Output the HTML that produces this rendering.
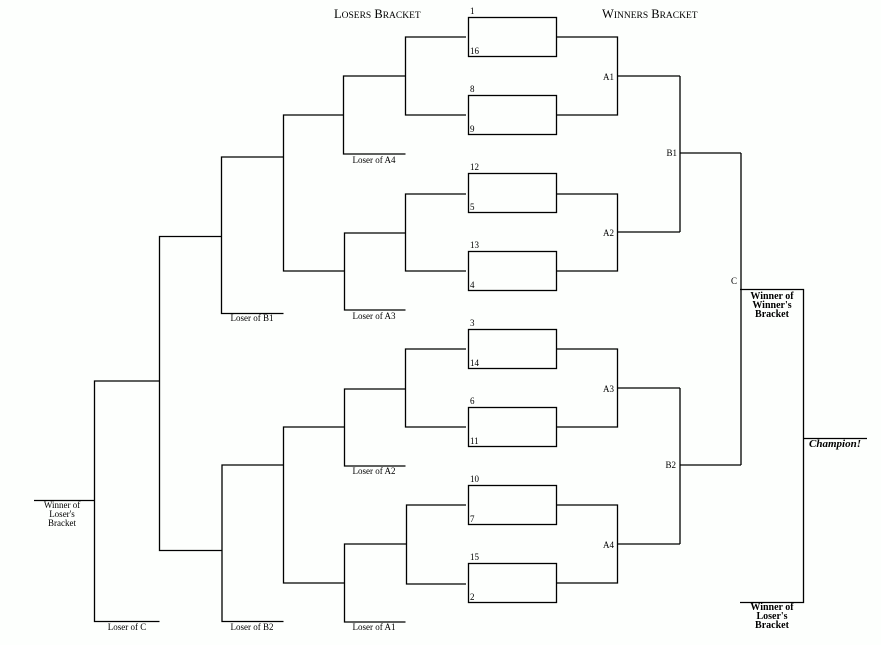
<!DOCTYPE html>
<html><head><meta charset="utf-8"><style>
html,body{margin:0;padding:0;background:#fdfffd;}
svg{display:block;}
text{font-family:"Liberation Serif",serif;fill:#000;}
.s{font-size:9px;}
.b{font-size:10px;font-weight:bold;}
</style></head><body>
<svg width="881" height="645" viewBox="0 0 881 645" xmlns="http://www.w3.org/2000/svg">
<g stroke="#000" stroke-width="1.3" fill="none">
<rect x="468.5" y="17.5" width="88" height="39"/>
<rect x="468.5" y="95.5" width="88" height="39"/>
<rect x="468.5" y="173.5" width="88" height="39"/>
<rect x="468.5" y="251.5" width="88" height="39"/>
<rect x="468.5" y="329.5" width="88" height="39"/>
<rect x="468.5" y="407.5" width="88" height="39"/>
<rect x="468.5" y="485.5" width="88" height="39"/>
<rect x="468.5" y="563.5" width="88" height="39"/>
<path d="M556 37H617.5V115H556 M617.5 76H680"/>
<path d="M556 194H617.5V271H556 M617.5 232H680"/>
<path d="M556 349H617.5V427H556 M617.5 388H680"/>
<path d="M556 505H617.5V583H556 M617.5 544H680"/>
<path d="M680 76V232 M680 153H741"/>
<path d="M680 388V544 M680 465H741"/>
<path d="M741 153V465"/>
<path d="M740 289.5H803.5V602.5H740 M803.5 438.5H867"/>
<path d="M466 37H405.5V115H466 M405.5 76H343.5V154H405.5"/>
<path d="M466 194H405.5V271H466 M405.5 233H344.5V310H405.5"/>
<path d="M343.5 115H283.5V271H344.5"/>
<path d="M283.5 157H221.5V313.5H283.5"/>
<path d="M221.5 236.5H159.5V550.5H222"/>
<path d="M466 349H405.5V427H466 M405.5 389H344.5V466H405.5"/>
<path d="M466 505H406.5V584H466 M406.5 544H344.5V622H405.5"/>
<path d="M344.5 427H283.5V583H344.5"/>
<path d="M283.5 465H222V621.5H283.5"/>
<path d="M159.5 381H94.5V621.5H159.5 M94.5 500.5H34"/>
</g>
<text x="334" y="18" style="font-size:12.5px">L<tspan style="font-size:9.5px">OSERS</tspan> B<tspan style="font-size:9.5px">RACKET</tspan></text>
<text x="602" y="18" style="font-size:12.5px">W<tspan style="font-size:9.5px">INNERS</tspan> B<tspan style="font-size:9.5px">RACKET</tspan></text>
<g class="s">
<text x="470" y="14">1</text><text x="470" y="54">16</text>
<text x="470" y="92">8</text><text x="470" y="132">9</text>
<text x="470" y="170">12</text><text x="470" y="210">5</text>
<text x="470" y="248">13</text><text x="470" y="288">4</text>
<text x="470" y="326">3</text><text x="470" y="366">14</text>
<text x="470" y="404">6</text><text x="470" y="444">11</text>
<text x="470" y="482">10</text><text x="470" y="522">7</text>
<text x="470" y="560">15</text><text x="470" y="600">2</text>
<text x="614" y="80" text-anchor="end">A1</text>
<text x="614" y="236" text-anchor="end">A2</text>
<text x="614" y="392" text-anchor="end">A3</text>
<text x="614" y="548" text-anchor="end">A4</text>
<text x="677" y="156" text-anchor="end">B1</text>
<text x="676" y="468" text-anchor="end">B2</text>
<text x="737" y="284" text-anchor="end">C</text>
<text x="374" y="163" text-anchor="middle">Loser of A4</text>
<text x="374" y="319" text-anchor="middle">Loser of A3</text>
<text x="374" y="474" text-anchor="middle">Loser of A2</text>
<text x="374" y="630" text-anchor="middle">Loser of A1</text>
<text x="252" y="321" text-anchor="middle">Loser of B1</text>
<text x="252" y="630" text-anchor="middle">Loser of B2</text>
<text x="127" y="630" text-anchor="middle">Loser of C</text>
<text x="62" y="508" text-anchor="middle">Winner of</text>
<text x="62" y="517" text-anchor="middle">Loser's</text>
<text x="62" y="526" text-anchor="middle">Bracket</text>
</g>
<g class="b" text-anchor="middle">
<text x="772" y="299">Winner of</text>
<text x="772" y="308">Winner's</text>
<text x="772" y="317">Bracket</text>
<text x="772" y="610">Winner of</text>
<text x="772" y="619">Loser's</text>
<text x="772" y="628">Bracket</text>
</g>
<text x="835" y="447" text-anchor="middle" style="font-size:11px;font-weight:bold;font-style:italic">Champion!</text>
</svg>
</body></html>
